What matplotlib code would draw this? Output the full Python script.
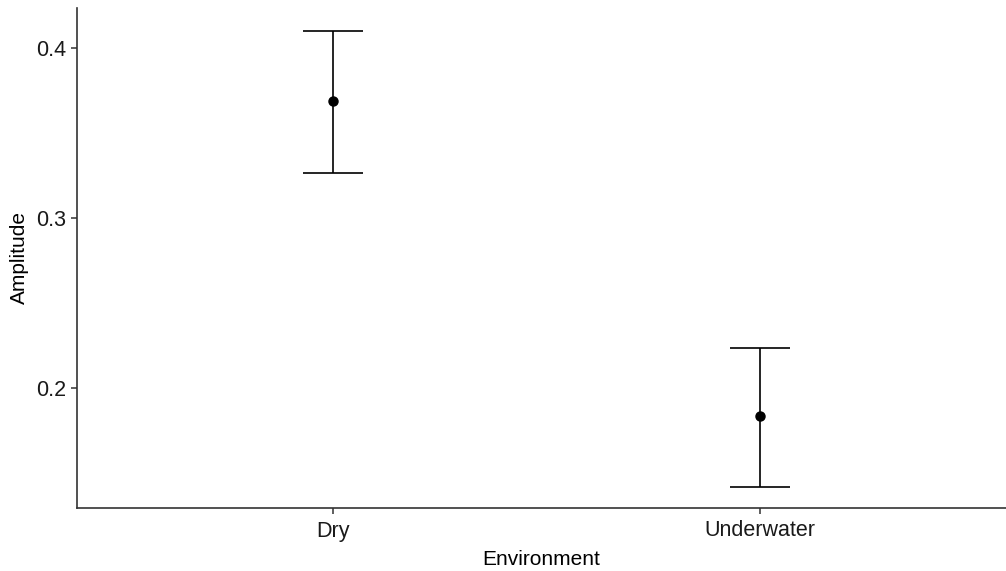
import matplotlib
matplotlib.use("Agg")
import matplotlib.pyplot as plt

categories = ["Dry", "Underwater"]
means = [0.369, 0.1835]
upper = [0.410, 0.2235]
lower = [0.3265, 0.1418]

plt.rcParams['font.family'] = ['Liberation Sans', 'DejaVu Sans']

fig = plt.figure(figsize=(10.06, 5.71), dpi=100)
ax = fig.add_axes([77/1006, 63/571, (1006-77)/1006, (508-8)/571])

x = list(range(1, len(categories) + 1))
yerr = [[m - l for m, l in zip(means, lower)], [u - m for m, u in zip(means, upper)]]
ax.errorbar(x, means, yerr=yerr, fmt='o', color='black', ecolor='black',
            elinewidth=1.2, capsize=21.6, capthick=1.2, markersize=6.5)

ax.set_xlim(0.4005, 2.576)
ax.set_ylim(0.1294, 0.4235)
ax.set_xticks(x)
ax.set_xticklabels(categories)
ax.set_yticks([0.2, 0.3, 0.4])
ax.set_yticklabels(["0.2", "0.3", "0.4"])

for s in ['top', 'right']:
    ax.spines[s].set_visible(False)
for s in ['left', 'bottom']:
    ax.spines[s].set_color('#333333')
    ax.spines[s].set_linewidth(1.2)
ax.tick_params(axis='both', colors='#333333', labelcolor='#1a1a1a', labelsize=15.5,
               length=4, width=1.1)
ax.tick_params(axis='x', pad=5)
ax.tick_params(axis='y', pad=4)
ax.set_xlabel("Environment", fontsize=15, labelpad=6)
ax.set_ylabel("Amplitude", fontsize=15, labelpad=5)

fig.savefig("out.png", dpi=100)
